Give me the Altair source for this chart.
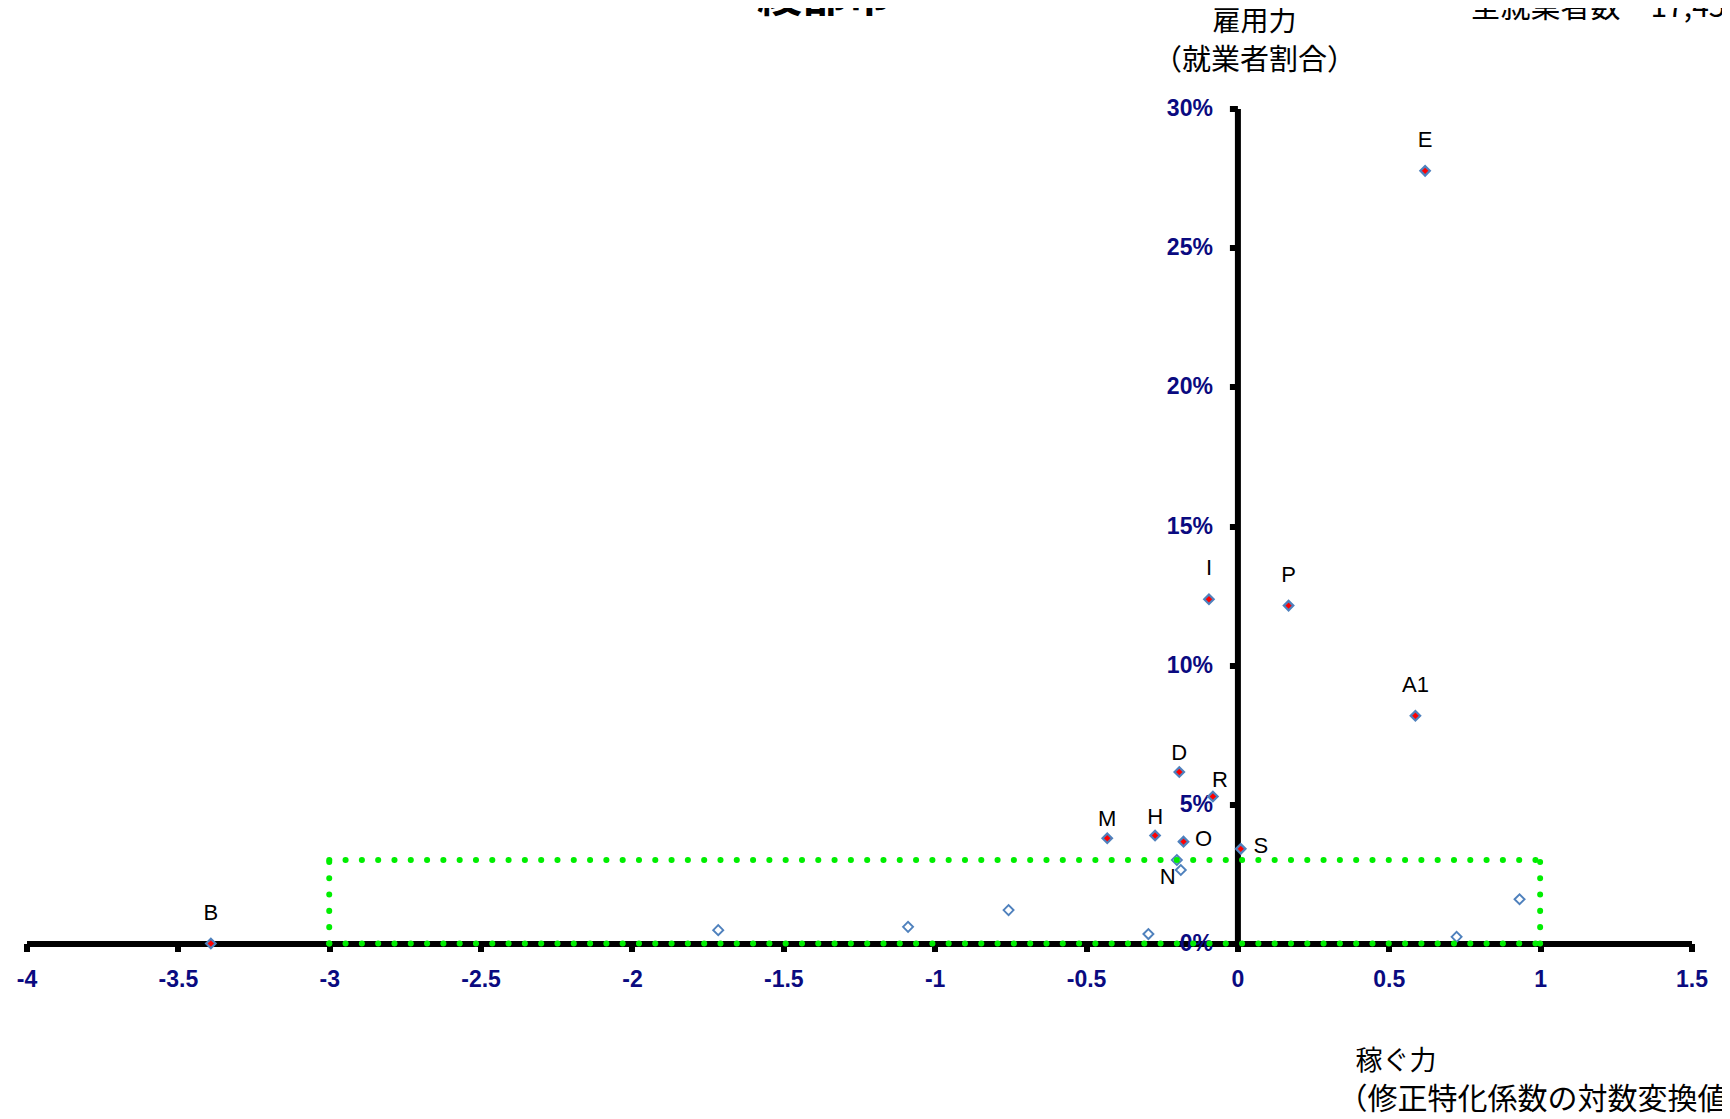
import altair as alt
import pandas as pd

# ---- data ----
# labelled industries (red diamonds)
lab_names = ["E", "I", "P", "A1", "D", "R", "M", "H", "O", "S", "B"]
lab_x = [0.620, -0.094, 0.169, 0.588, -0.192, -0.081, -0.430, -0.272, -0.178, 0.011, -3.391]
lab_y = [0.2776, 0.1237, 0.1214, 0.0818, 0.0616, 0.0528, 0.0378, 0.0388, 0.0366, 0.0340, 0.0]

# other industries (hollow diamonds)
oth_names = ["", "N", "", "", "", "", "", ""]
oth_x = [-0.200, -0.187, -0.294, -1.715, -1.088, -0.756, 0.724, 0.932]
oth_y = [0.0300, 0.0264, 0.0034, 0.0048, 0.0060, 0.0120, 0.0024, 0.0159]

x_ticks = [-4, -3.5, -3, -2.5, -2, -1.5, -1, -0.5, 0, 0.5, 1, 1.5]
y_ticks = [0, 0.05, 0.10, 0.15, 0.20, 0.25, 0.30]

# dotted highlight box
box_x = [-3, 1]
box_y = [0, 0.03]

title_text = "綾部市"
total_text = "全就業者数　17,456人"
y_title = ["雇用力", "（就業者割合）"]
x_title = ["稼ぐ力", "（修正特化係数の対数変換値）"]

# label placement groups
above_far = ["E", "I", "P", "A1", "B"]
above_near = ["D", "M", "H"]
above_right = ["R"]
right_side = ["O", "S"]
below_left = ["N"]

# ---- styling ----
NAVY = "#0A0A80"
BLUE = "#4F81BD"
GREEN = "#00EE00"
W, H = 1665, 835

lab_df = pd.DataFrame({"name": lab_names, "x": lab_x, "y": lab_y})
oth_df = pd.DataFrame({"name": oth_names, "x": oth_x, "y": oth_y})
box_df = pd.DataFrame({
    "x": [box_x[0], box_x[0], box_x[0], box_x[1]],
    "x2": [box_x[1], box_x[1], box_x[0], box_x[1]],
    "y": [box_y[0], box_y[1], box_y[0], box_y[0]],
    "y2": [box_y[0], box_y[1], box_y[1], box_y[1]],
})

xscale = alt.Scale(domain=[-4, 1.5], nice=False, zero=False)
yscale = alt.Scale(domain=[0, 0.30], nice=False, zero=False)

x_axis = alt.Axis(
    values=x_ticks, labelExpr="'' + datum.value", labelFlush=False, labelOverlap=False,
    labelFont="Liberation Sans", labelFontWeight="bold", labelFontSize=23, labelColor=NAVY,
    labelPadding=17, domainColor="black", domainWidth=6, tickColor="black", tickWidth=6,
    tickSize=8, grid=False, title=None,
)
y_axis = alt.Axis(
    values=y_ticks, format=".0%", orient="left", offset=-W * 4 / 5.5, labelOverlap=False,
    labelFont="Liberation Sans", labelFontWeight="bold", labelFontSize=23, labelColor=NAVY,
    labelPadding=17, domainColor="black", domainWidth=6, tickColor="black", tickWidth=6,
    tickSize=8, grid=False, title=None,
)

X = alt.X("x:Q", scale=xscale, axis=x_axis)
Y = alt.Y("y:Q", scale=yscale, axis=y_axis)

hollow = alt.Chart(oth_df).mark_point(
    shape="diamond", filled=True, fill="white", stroke=BLUE, strokeWidth=1.9, size=100, opacity=1
).encode(x=X, y=Y)

red = alt.Chart(lab_df).mark_point(
    shape="diamond", filled=True, fill="red", stroke=BLUE, strokeWidth=2.2, size=90, opacity=1
).encode(x=X, y=Y)

box = alt.Chart(box_df).mark_rule(
    color=GREEN, strokeWidth=6, strokeCap="round", strokeDash=[0.1, 16.2]
).encode(x=X, x2="x2:Q", y=Y, y2="y2:Q")


def labels(df, names, dx, dy):
    return alt.Chart(df).transform_filter(
        alt.FieldOneOfPredicate(field="name", oneOf=names)
    ).mark_text(
        font="Liberation Sans", fontSize=22, color="black", dx=dx, dy=dy, baseline="middle"
    ).encode(x=X, y=Y, text="name:N")


lbl = [
    labels(lab_df, above_far, 0, -31),
    labels(lab_df, above_near, 0, -19),
    labels(lab_df, above_right, 7, -17),
    labels(lab_df, right_side, 20, -3),
    labels(oth_df, below_left, -13, 7),
]


def note(text, px, py, size, align="center", weight="normal", baseline="middle"):
    return alt.Chart(pd.DataFrame({"t": [text]})).mark_text(
        font="Noto Sans CJK JP", fontSize=size, fontWeight=weight, align=align,
        baseline=baseline, color="black"
    ).encode(x=alt.value(px), y=alt.value(py), text="t:N")


notes = [
    note(title_text, 798, -97, 45, weight="bold", baseline="alphabetic"),
    note(total_text, 1444, -101, 30, align="left"),
    note(y_title[0], 1228, -85.5, 28),
    note(y_title[1], 1228, -47.5, 29),
    note(x_title[0], 1329, 953, 27, align="left"),
    note(x_title[1], 1311, 991, 30, align="left"),
]

chart = alt.layer(hollow, red, box, *lbl, *notes).properties(
    width=W, height=H,
    autosize=alt.AutoSizeParams(type="none"),
    padding={"left": 18.5, "top": 100.5, "right": 30.5, "bottom": 175.5},
).configure(background="white").configure_view(stroke="transparent", strokeWidth=0)

chart.save("out.html", embed_options={"renderer": "svg", "actions": False})
